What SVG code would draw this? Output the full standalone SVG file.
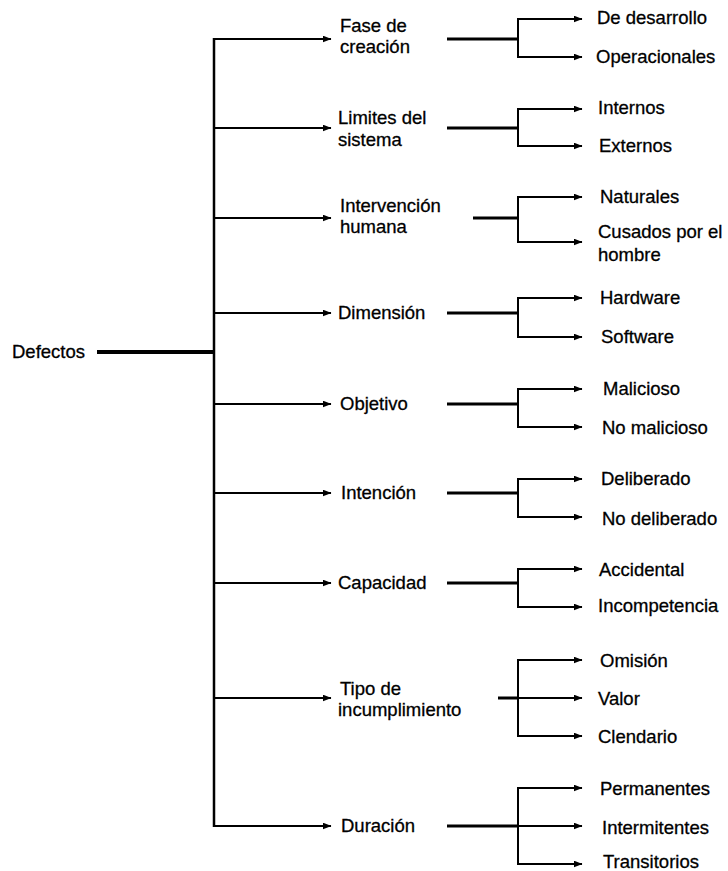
<svg xmlns="http://www.w3.org/2000/svg" width="728" height="871" viewBox="0 0 728 871">
  <style>
    text { font-family: "Liberation Sans", Arial, sans-serif; font-size: 18.5px; fill: #000; stroke: #000; stroke-width: 0.3; }
    .ln { stroke: #000; fill: none; stroke-linecap: butt; }
    .trunk { stroke-width: 2.5; }
    .root { stroke-width: 4; }
    .arr { stroke-width: 2; marker-end: url(#ah); }
    .stem { stroke-width: 3; }
    .fork { stroke-width: 2; }
  </style>
  <defs>
    <marker id="ah" markerUnits="userSpaceOnUse" markerWidth="9" markerHeight="7" refX="8.5" refY="3.5" orient="auto">
      <path d="M0,0 L9,3.5 L0,7 z" fill="#000"/>
    </marker>
  </defs>
  <rect width="728" height="871" fill="#fff"/>

  <g id="connectors">
    <!-- root and trunk -->
    <line class="ln root" x1="97" y1="352" x2="215" y2="352"/>
    <line class="ln trunk" x1="214" y1="38" x2="214" y2="827"/>
    <!-- trunk to categories -->
    <line class="ln arr" x1="213" y1="39" x2="331" y2="39"/>
    <line class="ln arr" x1="213" y1="128" x2="331" y2="128"/>
    <line class="ln arr" x1="213" y1="218" x2="331" y2="218"/>
    <line class="ln arr" x1="213" y1="313" x2="331" y2="313"/>
    <line class="ln arr" x1="213" y1="404" x2="331" y2="404"/>
    <line class="ln arr" x1="213" y1="493" x2="331" y2="493"/>
    <line class="ln arr" x1="213" y1="583" x2="331" y2="583"/>
    <line class="ln arr" x1="213" y1="698" x2="331" y2="698"/>
    <line class="ln arr" x1="213" y1="826" x2="331" y2="826"/>

    <!-- Fase de creación -->
    <line class="ln stem" x1="447" y1="39" x2="518" y2="39"/>
    <line class="ln fork" x1="518" y1="18" x2="518" y2="58"/>
    <line class="ln arr" x1="517" y1="19" x2="582" y2="19"/>
    <line class="ln arr" x1="517" y1="57" x2="582" y2="57"/>

    <!-- Limites del sistema -->
    <line class="ln stem" x1="447" y1="128" x2="518" y2="128"/>
    <line class="ln fork" x1="518" y1="108" x2="518" y2="147"/>
    <line class="ln arr" x1="517" y1="109" x2="582" y2="109"/>
    <line class="ln arr" x1="517" y1="146" x2="582" y2="146"/>

    <!-- Intervención humana -->
    <line class="ln stem" x1="473" y1="218" x2="518" y2="218"/>
    <line class="ln fork" x1="518" y1="196" x2="518" y2="243"/>
    <line class="ln arr" x1="517" y1="197" x2="582" y2="197"/>
    <line class="ln arr" x1="517" y1="242" x2="582" y2="242"/>

    <!-- Dimensión -->
    <line class="ln stem" x1="447" y1="313" x2="518" y2="313"/>
    <line class="ln fork" x1="518" y1="297" x2="518" y2="338"/>
    <line class="ln arr" x1="517" y1="298" x2="582" y2="298"/>
    <line class="ln arr" x1="517" y1="337" x2="582" y2="337"/>

    <!-- Objetivo -->
    <line class="ln stem" x1="447" y1="404" x2="518" y2="404"/>
    <line class="ln fork" x1="518" y1="388" x2="518" y2="428"/>
    <line class="ln arr" x1="517" y1="389" x2="582" y2="389"/>
    <line class="ln arr" x1="517" y1="427" x2="582" y2="427"/>

    <!-- Intención -->
    <line class="ln stem" x1="447" y1="493" x2="518" y2="493"/>
    <line class="ln fork" x1="518" y1="478" x2="518" y2="518"/>
    <line class="ln arr" x1="517" y1="479" x2="582" y2="479"/>
    <line class="ln arr" x1="517" y1="517" x2="582" y2="517"/>

    <!-- Capacidad -->
    <line class="ln stem" x1="447" y1="583" x2="518" y2="583"/>
    <line class="ln fork" x1="518" y1="568" x2="518" y2="608"/>
    <line class="ln arr" x1="517" y1="569" x2="582" y2="569"/>
    <line class="ln arr" x1="517" y1="607" x2="582" y2="607"/>

    <!-- Tipo de incumplimiento -->
    <line class="ln stem" x1="498" y1="698" x2="518" y2="698"/>
    <line class="ln fork" x1="518" y1="659" x2="518" y2="737"/>
    <line class="ln arr" x1="517" y1="660" x2="582" y2="660"/>
    <line class="ln arr" x1="517" y1="698" x2="582" y2="698"/>
    <line class="ln arr" x1="517" y1="736" x2="582" y2="736"/>

    <!-- Duración -->
    <line class="ln stem" x1="447" y1="826" x2="518" y2="826"/>
    <line class="ln fork" x1="518" y1="787" x2="518" y2="865"/>
    <line class="ln arr" x1="517" y1="788" x2="582" y2="788"/>
    <line class="ln arr" x1="517" y1="826" x2="582" y2="826"/>
    <line class="ln arr" x1="517" y1="864" x2="582" y2="864"/>
  </g>

  <g id="defectos"><text x="12" y="358">Defectos</text></g>

  <g id="fase"><text x="340" y="32">Fase de</text><text x="340" y="53">creación</text></g>
  <g id="limites"><text x="338" y="124">Limites del</text><text x="338" y="146">sistema</text></g>
  <g id="intervencion"><text x="340" y="212">Intervención</text><text x="340" y="233">humana</text></g>
  <g id="dimension"><text x="338" y="319">Dimensión</text></g>
  <g id="objetivo"><text x="340" y="410">Objetivo</text></g>
  <g id="intencion"><text x="341" y="499">Intención</text></g>
  <g id="capacidad"><text x="338" y="589">Capacidad</text></g>
  <g id="tipo"><text x="340" y="695">Tipo de</text><text x="338" y="716">incumplimiento</text></g>
  <g id="duracion"><text x="341" y="832">Duración</text></g>

  <g id="fase-items"><text x="597" y="24">De desarrollo</text><text x="596" y="63">Operacionales</text></g>
  <g id="limites-items"><text x="598" y="114">Internos</text><text x="599" y="152">Externos</text></g>
  <g id="intervencion-items"><text x="600" y="203">Naturales</text><text x="598" y="238">Cusados por el</text><text x="598" y="261">hombre</text></g>
  <g id="dimension-items"><text x="600" y="304">Hardware</text><text x="601" y="343">Software</text></g>
  <g id="objetivo-items"><text x="603" y="395">Malicioso</text><text x="602" y="434">No malicioso</text></g>
  <g id="intencion-items"><text x="601" y="485">Deliberado</text><text x="602" y="525">No deliberado</text></g>
  <g id="capacidad-items"><text x="599" y="576">Accidental</text><text x="598" y="612">Incompetencia</text></g>
  <g id="tipo-items"><text x="600" y="667">Omisión</text><text x="598" y="705">Valor</text><text x="598" y="743">Clendario</text></g>
  <g id="duracion-items"><text x="600" y="795">Permanentes</text><text x="602" y="834">Intermitentes</text><text x="603" y="868">Transitorios</text></g>
</svg>
